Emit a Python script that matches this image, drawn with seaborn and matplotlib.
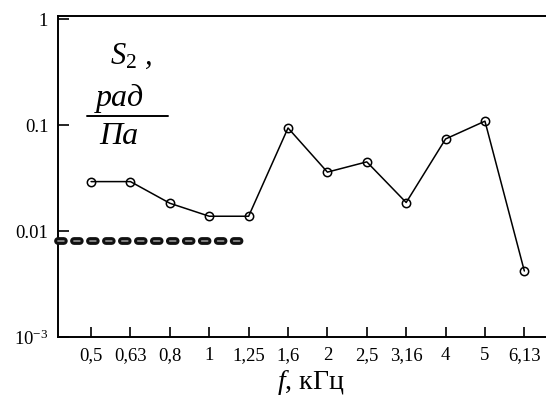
import matplotlib
matplotlib.use("Agg")
import matplotlib.pyplot as plt
import seaborn as sns
import pandas as pd

freq_labels = ["0,5", "0,63", "0,8", "1", "1,25", "1,6", "2", "2,5", "3,16", "4", "5", "6,13"]
s2_values = [0.0293, 0.0293, 0.0183, 0.0138, 0.0138, 0.094, 0.036, 0.045, 0.0186, 0.074, 0.109, 0.0042]
threshold_level = 0.008
ytick_values = [1e-3, 1e-2, 1e-1, 1]
ytick_labels = ["$10^{-3}$", "0.01", "0.1", "1"]

sns.set_theme(style="white")
plt.rcParams["font.family"] = ["Liberation Serif", "DejaVu Serif"]
plt.rcParams["mathtext.fontset"] = "custom"
plt.rcParams["mathtext.rm"] = "Liberation Serif"
plt.rcParams["mathtext.it"] = "Liberation Serif:italic"
plt.rcParams["lines.scale_dashes"] = False

df = pd.DataFrame({"f": freq_labels, "S2": s2_values})

fig = plt.figure(figsize=(5.46, 3.97), dpi=100)
ax = fig.add_axes([58 / 546, 60 / 397, 1 - 58 / 546, (337 - 16) / 397])

sns.lineplot(data=df, x="f", y="S2", ax=ax, color="black", lw=1.1,
             marker="o", markersize=6, markerfacecolor="none",
             markeredgecolor="black", markeredgewidth=1.1, sort=False)

ax.set_yscale("log")
ax.set_ylim(1e-3, 10 ** 0.03)
ax.set_xlim(-0.84, 11.55)

# thick dashed threshold line
ax.axhline(threshold_level, xmin=0.0, xmax=0.376, color="#111111", lw=5.6,
           linestyle=(0, (4.2, 7.3)), dash_capstyle="round", clip_on=False, zorder=3)
ax.axhline(threshold_level, xmin=0.0, xmax=0.376, color="#8a8a8a", lw=1.3,
           linestyle=(0, (4.2, 7.3)), dash_capstyle="round", clip_on=False, zorder=4)

ax.set_yticks(ytick_values)
ax.set_yticklabels(ytick_labels)
ax.yaxis.set_minor_locator(matplotlib.ticker.NullLocator())
ax.set_xticks(range(len(freq_labels)))
ax.set_xticklabels(freq_labels)

ax.tick_params(axis="both", which="major", direction="in", colors="black",
               labelsize=13.5, width=1.2, labelcolor="black",
               bottom=True, left=True, top=False, right=False)
ax.tick_params(axis="x", pad=7, length=7)
ax.tick_params(axis="y", pad=7, length=8)

for side in ["left", "bottom", "top"]:
    ax.spines[side].set_visible(True)
    ax.spines[side].set_color("black")
    ax.spines[side].set_linewidth(1.4)
ax.spines["right"].set_visible(False)

ax.set_xlabel("")
ax.set_ylabel("")
fig.text(311 / 546, 8 / 397, r"$\it{f}$, кГц", ha="center", va="baseline", fontsize=20, color="black")

# y axis label block
fig.text(131 / 546, 1 - 56 / 397, r"$S_{\rm 2}$ ,", ha="center", va="center", fontsize=22,
         color="black", style="italic")
fig.text(120 / 546, 1 - 98 / 397, "рад", ha="center", va="center", fontsize=23,
         color="black", style="italic")
fig.add_artist(matplotlib.lines.Line2D([87 / 546, 168 / 546], [1 - 116 / 397, 1 - 116 / 397],
                                       color="black", lw=1.4))
fig.text(119 / 546, 1 - 137 / 397, "Па", ha="center", va="center", fontsize=23,
         color="black", style="italic")

fig.savefig("out.png", dpi=100)
